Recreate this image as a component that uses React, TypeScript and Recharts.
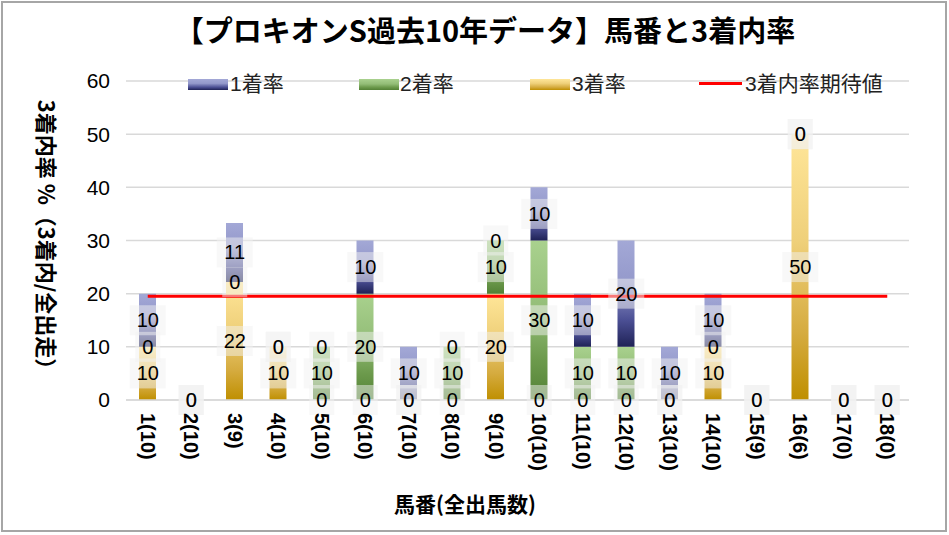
import React from 'react';
import {
  ComposedChart, Bar, Line, Scatter, XAxis, YAxis, CartesianGrid,
} from 'recharts';

// 馬番(出走数)
const CATEGORIES = [
  '1(10)', '2(10)', '3(9)', '4(10)', '5(10)', '6(10)', '7(10)', '8(10)', '9(10)',
  '10(10)', '11(10)', '12(10)', '13(10)', '14(10)', '15(9)', '16(6)', '17(0)', '18(0)',
];

// 各着率 (%)
const RATE_1 = [10, 0, 11.1, 0, 0, 10, 10, 0, 0, 10, 10, 20, 10, 10, 0, 0, 0, 0];
const RATE_2 = [0, 0, 0, 0, 10, 20, 0, 10, 10, 30, 10, 10, 0, 0, 0, 0, 0, 0];
const RATE_3 = [10, 0, 22.2, 10, 0, 0, 0, 0, 20, 0, 0, 0, 0, 10, 0, 50, 0, 0];

// 3着内率期待値
const EXPECTED = 19.5;

const Y_TICKS = [0, 10, 20, 30, 40, 50, 60];

const FONT = '"Liberation Sans", Arial, "Noto Sans CJK JP", sans-serif';
const JP_FONT = '"Noto Sans CJK JP", "Liberation Sans", sans-serif';

const data = CATEGORIES.map((name, i) => ({
  name,
  r1: RATE_1[i],
  r2: RATE_2[i],
  r3: RATE_3[i],
  exp: EXPECTED,
  // ラベル位置 (各セグメントの中央)
  m3: RATE_3[i] / 2,
  m2: RATE_3[i] + RATE_2[i] / 2,
  m1: RATE_3[i] + RATE_2[i] + RATE_1[i] / 2,
}));

const labelShape = (key: 'r1' | 'r2' | 'r3') => (props: any) => {
  const { cx, cy, payload } = props;
  if (cx == null || cy == null) return null;
  const text = String(Math.round(payload[key]));
  const w = text.length * 11 + 14;
  return (
    <g>
      <rect x={cx - w / 2} y={cy - 15} width={w} height={30} fill="#f2f2f2" fillOpacity={0.5} />
      <text x={cx} y={cy} textAnchor="middle" dominantBaseline="central"
        fontSize={20} fontFamily={FONT} fill="#000">{text}</text>
    </g>
  );
};

const XTick = (props: any) => {
  const { x, y, payload } = props;
  const ty = y + 5;
  return (
    <text x={x} y={ty} transform={`rotate(90, ${x}, ${ty})`} textAnchor="start"
      dominantBaseline="central" fontSize={20} fontWeight="bold" fontFamily={FONT} fill="#000">
      {payload.value}
    </text>
  );
};

const swatch = (bg: string, left: number) => ({
  position: 'absolute' as const, left, width: 40, height: 11, top: 79, background: bg,
});

const legendText = (left: number) => ({
  position: 'absolute' as const, left, top: 70, fontSize: 21, fontFamily: FONT,
  color: '#222', lineHeight: '28px', whiteSpace: 'nowrap' as const,
});

const BLUE = 'linear-gradient(to bottom, #a3a8d6 0%, #9499cb 40%, #4b4f94 75%, #1f2256 100%)';
const GREEN = 'linear-gradient(to bottom, #a9d18e 0%, #93bd77 45%, #6c9a4c 75%, #538135 100%)';
const GOLD = 'linear-gradient(to bottom, #ffe699 0%, #efd07a 40%, #d5ab3f 75%, #bf8f00 100%)';

export default function App() {
  return (
    <div style={{ position: 'absolute', left: 0, top: 0, width: 949, height: 535, background: '#fff' }}>
      <div style={{
        position: 'absolute', left: 1, top: 1, width: 946, height: 531,
        border: '2px solid #a6a6a6', boxSizing: 'border-box',
      }} />
      <div style={{
        position: 'absolute', left: 0, width: 970, top: 9, textAlign: 'center',
        fontSize: 29, fontWeight: 'bold', fontFamily: JP_FONT, color: '#000', lineHeight: '40px',
      }}>
        【プロキオンS過去10年データ】馬番と3着内率
      </div>

      <ComposedChart width={949} height={535} data={data}
        margin={{ top: 81, right: 40, left: 0, bottom: 0 }} barSize={17}>
        <defs>
          <linearGradient id="gBlue" x1="0" y1="0" x2="0" y2="1">
            <stop offset="0%" stopColor="#a3a8d6" />
            <stop offset="40%" stopColor="#9499cb" />
            <stop offset="75%" stopColor="#4b4f94" />
            <stop offset="100%" stopColor="#1f2256" />
          </linearGradient>
          <linearGradient id="gGreen" x1="0" y1="0" x2="0" y2="1">
            <stop offset="0%" stopColor="#a9d18e" />
            <stop offset="45%" stopColor="#93bd77" />
            <stop offset="75%" stopColor="#6c9a4c" />
            <stop offset="100%" stopColor="#538135" />
          </linearGradient>
          <linearGradient id="gGold" x1="0" y1="0" x2="0" y2="1">
            <stop offset="0%" stopColor="#ffe699" />
            <stop offset="40%" stopColor="#efd07a" />
            <stop offset="75%" stopColor="#d5ab3f" />
            <stop offset="100%" stopColor="#bf8f00" />
          </linearGradient>
        </defs>
        <CartesianGrid vertical={false} stroke="#d9d9d9" strokeWidth={1.5} />
        <XAxis dataKey="name" height={135} tickLine={false} axisLine={{ stroke: '#d9d9d9', strokeWidth: 1.5 }}
          tick={<XTick />} interval={0} />
        <YAxis width={126} domain={[0, 60]} ticks={Y_TICKS} axisLine={false} tickLine={false}
          tickMargin={10} tick={{ fontSize: 21, fontFamily: FONT, fill: '#000' }} />
        <Bar dataKey="r3" stackId="a" fill="url(#gGold)" isAnimationActive={false} />
        <Bar dataKey="r2" stackId="a" fill="url(#gGreen)" isAnimationActive={false} />
        <Bar dataKey="r1" stackId="a" fill="url(#gBlue)" isAnimationActive={false} />
        <Line dataKey="exp" stroke="#ff0000" strokeWidth={3} dot={false} activeDot={false}
          isAnimationActive={false} />
        <Scatter dataKey="m3" shape={labelShape('r3')} isAnimationActive={false} />
        <Scatter dataKey="m2" shape={labelShape('r2')} isAnimationActive={false} />
        <Scatter dataKey="m1" shape={labelShape('r1')} isAnimationActive={false} />
      </ComposedChart>

      {/* 凡例 */}
      <div style={swatch(BLUE, 188)} />
      <div style={legendText(230)}>1着率</div>
      <div style={swatch(GREEN, 359)} />
      <div style={legendText(400)}>2着率</div>
      <div style={swatch(GOLD, 530)} />
      <div style={legendText(572)}>3着率</div>
      <div style={{ position: 'absolute', left: 699, top: 82, width: 43, height: 3, background: '#ff0000' }} />
      <div style={legendText(745)}>3着内率期待値</div>

      {/* 軸タイトル */}
      <div style={{
        position: 'absolute', left: 48, top: 240, transform: 'translate(-50%, -50%) rotate(90deg)',
        fontSize: 22, fontWeight: 'bold', fontFamily: JP_FONT, color: '#000', whiteSpace: 'nowrap',
      }}>
        3着内率 %（3着内/全出走）
      </div>
      <div style={{
        position: 'absolute', left: 465, top: 503, transform: 'translate(-50%, -50%)',
        fontSize: 21, fontWeight: 'bold', fontFamily: JP_FONT, color: '#000', whiteSpace: 'nowrap',
      }}>
        馬番(全出馬数)
      </div>
    </div>
  );
}
